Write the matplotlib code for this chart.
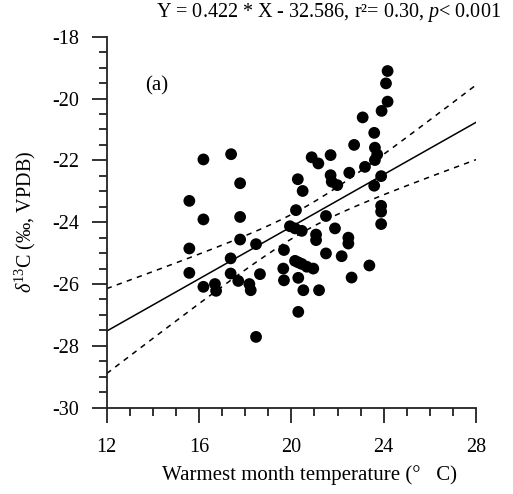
import numpy as np
import matplotlib
matplotlib.use("Agg")
import matplotlib.pyplot as plt
from matplotlib.ticker import MultipleLocator

plt.rcParams['font.family'] = ['Liberation Serif', 'DejaVu Serif']
plt.rcParams['mathtext.fontset'] = 'custom'
plt.rcParams['mathtext.rm'] = 'Liberation Serif'
plt.rcParams['mathtext.it'] = 'Liberation Serif:italic'
plt.rcParams['axes.unicode_minus'] = False

# Warmest month temperature (°C)
temp = [15.58, 15.58, 15.58, 16.19, 16.19, 16.19, 16.69, 16.74,
        17.39, 17.37, 17.37, 17.70, 17.78, 17.78, 17.78,
        18.18, 18.24, 18.47, 18.64, 18.47,
        19.65, 19.68, 19.68, 19.94, 20.16, 20.45, 20.20, 20.28, 20.49,
        20.30, 20.30, 20.16, 20.45, 20.52, 20.30, 20.95, 20.67,
        20.88, 21.17, 21.70, 21.70, 21.75, 21.99,
        21.50, 21.07, 21.07, 21.89, 21.50, 21.20,
        22.18, 22.47, 22.47, 22.51, 22.61, 22.72, 23.19, 23.09, 23.38,
        23.59, 23.62, 23.72, 23.62, 23.59, 23.89,
        23.89, 23.89, 23.89, 23.91, 24.17, 24.10, 24.17]
# delta13C (permil, VPDB)
d13c = [-23.31, -24.85, -25.64, -21.97, -23.91, -26.09, -26.00, -26.22,
        -21.80, -25.17, -25.66, -25.90, -22.74, -23.83, -24.56,
        -26.00, -26.20, -24.71, -25.68, -27.71,
        -25.50, -25.88, -24.90, -24.13, -24.20, -24.28, -23.61, -22.61, -22.99,
        -25.30, -25.80, -25.25, -25.35, -26.20, -26.90, -25.50, -25.44,
        -21.90, -22.10, -21.83, -22.48, -22.69, -22.80,
        -23.80, -24.40, -24.58, -24.20, -25.01, -26.20,
        -25.10, -24.50, -24.69, -22.40, -25.79, -21.50, -22.21, -20.61, -25.40,
        -21.11, -21.59, -21.81, -21.99, -22.82, -22.51,
        -23.47, -23.66, -24.06, -20.40, -20.10, -19.51, -19.11]

slope = 0.422
intercept = -32.586
t_crit = 1.99

x = np.array(temp)
y = np.array(d13c)

fig = plt.figure(figsize=(5.13, 4.94), dpi=100)
ax = fig.add_axes([106.7/513, 1-407.7/494, (476-106.7)/513, (407.7-36.7)/494])

ax.scatter(x, y, s=72, c='black', edgecolors='none', zorder=3)

xx = np.linspace(12, 28, 200)
yy = slope * xx + intercept
n = len(x)
resid = y - (slope * x + intercept)
s = np.sqrt(np.sum(resid**2) / (n - 2))
sxx = np.sum((x - x.mean())**2)
hw = t_crit * s * np.sqrt(1.0/n + (xx - x.mean())**2 / sxx)

ax.plot(xx, yy, color='black', lw=1.1, zorder=2)
ax.plot(xx, yy + hw, color='black', lw=1.1, dashes=(3.5, 3.5), zorder=2)
ax.plot(xx, yy - hw, color='black', lw=1.1, dashes=(3.5, 3.5), zorder=2)

ax.set_xlim(12, 28)
ax.set_ylim(-30, -18)
ax.xaxis.set_major_locator(MultipleLocator(4))
ax.xaxis.set_minor_locator(MultipleLocator(1))
ax.yaxis.set_major_locator(MultipleLocator(2))
ax.yaxis.set_minor_locator(MultipleLocator(0.5))
for sp in ['top', 'right']:
    ax.spines[sp].set_visible(False)
for sp in ['left', 'bottom']:
    ax.spines[sp].set_linewidth(1.3)
    ax.spines[sp].set_color('#222222')
ax.tick_params(which='major', direction='out', length=11, width=1.3, color='#222222',
               labelsize=14.5, pad=9)
ax.tick_params(which='minor', direction='out', length=5.5, width=1.3, color='#222222')
ax.tick_params(axis='x', which='major', pad=11)

ax.text(14.18, -19.6, '(a)', fontsize=15, ha='center', va='center')

fig.text(310/513, 1-480/494, 'Warmest month temperature (°   C)', fontsize=15,
         ha='center', va='baseline')
fig.text(25/513, 1-222/494, r'$\delta^{13}$C (‰, VPDB)', fontsize=14.5,
         rotation=90, ha='center', va='center')
fig.text(501/513, 1-17/494, r'Y = 0.422 * X - 32.586, r²= 0.30, $p$< 0.001',
         fontsize=14.5, ha='right', va='baseline')

fig.savefig('out.png', dpi=100)
